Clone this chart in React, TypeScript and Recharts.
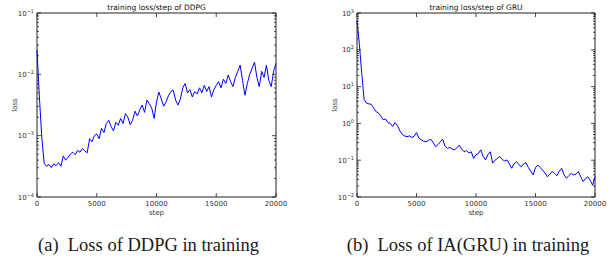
import React from 'react';
import { LineChart, Line, XAxis, YAxis, ReferenceArea } from 'recharts';

// sampled every 200 steps, 0..20000
const STEP_SIZE = 200;

const ddpgLoss = [
  2.5e-2, 4.27e-3, 9.5e-4, 3.55e-4, 3.16e-4, 3.39e-4, 3.02e-4, 3.47e-4, 3.24e-4, 3.63e-4,
  3.16e-4, 4.68e-4, 3.98e-4, 4.47e-4, 5.01e-4, 5.37e-4, 4.9e-4, 5.75e-4, 5.37e-4, 6.17e-4,
  5.62e-4, 5.25e-4, 8.91e-4, 7.94e-4, 1.0e-3, 1.07e-3, 8.91e-4, 1.32e-3, 1.12e-3, 1.58e-3,
  1.78e-3, 1.41e-3, 1.2e-3, 1.66e-3, 1.48e-3, 1.91e-3, 1.58e-3, 2.29e-3, 2.0e-3, 1.51e-3,
  1.78e-3, 2.51e-3, 2.09e-3, 2.63e-3, 3.16e-3, 2.4e-3, 3.8e-3, 3.31e-3, 2.82e-3, 1.91e-3,
  3.55e-3, 5.13e-3, 3.98e-3, 3.02e-3, 3.55e-3, 4.47e-3, 5.25e-3, 5.5e-3, 3.8e-3, 3.16e-3,
  3.98e-3, 6.03e-3, 7.08e-3, 5.01e-3, 5.62e-3, 4.27e-3, 5.25e-3, 4.79e-3, 6.03e-3, 5.01e-3,
  6.61e-3, 5.25e-3, 6.31e-3, 4.27e-3, 5.62e-3, 6.61e-3, 7.59e-3, 6.03e-3, 8.32e-3, 7.08e-3,
  9.77e-3, 7.59e-3, 6.31e-3, 8.91e-3, 1.12e-2, 1.41e-2, 7.94e-3, 4.57e-3, 7.08e-3, 1.0e-2,
  1.26e-2, 1.58e-2, 8.91e-3, 6.31e-3, 1.12e-2, 8.91e-3, 1.41e-2, 7.94e-3, 6.31e-3, 1.12e-2,
  1.51e-2,
];

const gruLoss = [
  631, 141, 22.4, 4.47, 3.55, 3.39, 3.31, 2.63, 2.09, 1.91,
  1.58, 1.26, 1.32, 1.05, 1.0, 0.832, 1.05, 0.871, 0.631, 0.501,
  0.457, 0.437, 0.457, 0.417, 0.447, 0.562, 0.398, 0.355, 0.331, 0.316,
  0.347, 0.372, 0.302, 0.234, 0.263, 0.316, 0.372, 0.24, 0.209, 0.224,
  0.2, 0.191, 0.219, 0.257, 0.2, 0.17, 0.182, 0.158, 0.17, 0.112,
  0.141, 0.151, 0.191, 0.126, 0.102, 0.141, 0.17, 0.0832, 0.1, 0.112,
  0.126, 0.105, 0.0955, 0.102, 0.0794, 0.0603, 0.0794, 0.0912, 0.0759, 0.0661,
  0.0794, 0.0851, 0.0631, 0.0501, 0.0398, 0.0631, 0.0741, 0.0631, 0.0537, 0.0447,
  0.0355, 0.0417, 0.0501, 0.0437, 0.038, 0.0501, 0.0603, 0.0398, 0.0324, 0.038,
  0.0437, 0.0398, 0.0417, 0.049, 0.0355, 0.0263, 0.0316, 0.0355, 0.0282, 0.0209,
  0.0355,
];

const stepTicks = [0, 5000, 10000, 15000, 20000];
const ddpgMajors = [1e-4, 1e-3, 1e-2, 1e-1];
const gruMajors = [1e-2, 1e-1, 1, 10, 100, 1000];
const minorFactors = [2, 3, 4, 5, 6, 7, 8, 9];

const withMinors = (majors: number[]) => {
  const out: number[] = [...majors];
  majors.slice(0, -1).forEach((m) => minorFactors.forEach((f) => out.push(m * f)));
  return out;
};

const toRows = (vals: number[]) => vals.map((v, i) => ({ step: i * STEP_SIZE, loss: v }));

const AXIS = '#222';
const TXT = '#333';
const SANS = '"DejaVu Sans", sans-serif';

const isMajor = (v: number, majors: number[]) => majors.some((m) => Math.abs(m - v) / m < 1e-6);

const YTick = ({ x, y, payload, majors, plotW }: any) => {
  const v = payload.value;
  const major = isMajor(v, majors);
  const len = major ? 4 : 2;
  const exp = Math.round(Math.log10(v));
  return (
    <g>
      <line x1={x} x2={x + len} y1={y} y2={y} stroke={AXIS} strokeWidth={0.8} />
      <line x1={x + plotW} x2={x + plotW - len} y1={y} y2={y} stroke={AXIS} strokeWidth={0.8} />
      {major && (
        <text x={x - 3} y={y + 2.5} textAnchor="end" fontFamily={SANS} fontSize={7} fill={TXT}>
          10
          <tspan dy={-3} fontSize={5}>{exp < 0 ? `\u2212${-exp}` : exp}</tspan>
        </text>
      )}
    </g>
  );
};

const XTick = ({ x, y, payload, plotH }: any) => (
  <g>
    <line x1={x} x2={x} y1={y} y2={y - 4} stroke={AXIS} strokeWidth={0.8} />
    <line x1={x} x2={x} y1={y - plotH} y2={y - plotH + 4} stroke={AXIS} strokeWidth={0.8} />
    <text x={x} y={y + 8.5} textAnchor="middle" fontFamily={SANS} fontSize={7} fill={TXT}>
      {payload.value}
    </text>
  </g>
);

interface PanelProps {
  left: number;
  width: number;
  plot: { top: number; right: number; bottom: number; left: number };
  data: { step: number; loss: number }[];
  majors: number[];
  title: string;
  caption: string;
}

const H = 220;

const Panel = ({ left, width, plot, data, majors, title, caption }: PanelProps) => {
  const plotW = width - plot.left - plot.right;
  const plotH = H - plot.top - plot.bottom;
  // axes take 1px each (a zero-sized axis is not drawn)
  const margin = { top: plot.top, right: plot.right, bottom: plot.bottom - 1, left: plot.left - 1 };
  const domain = [majors[0], majors[majors.length - 1]];
  const cx = left + plot.left + plotW / 2;
  const center: React.CSSProperties = {
    position: 'absolute',
    transform: 'translate(-50%, -50%)',
    whiteSpace: 'pre',
    lineHeight: 1,
  };
  return (
    <>
      <div style={{ position: 'absolute', left, top: 0 }}>
        <LineChart width={width} height={H} data={data} margin={margin}>
          <ReferenceArea
            x1={0}
            x2={20000}
            y1={domain[0]}
            y2={domain[1]}
            fill="none"
            stroke={AXIS}
            strokeWidth={1}
            ifOverflow="visible"
          />
          <XAxis
            dataKey="step"
            type="number"
            domain={[0, 20000]}
            ticks={stepTicks}
            interval={0}
            height={1}
            axisLine={false}
            tickLine={false}
            tickSize={0}
            tickMargin={0}
            tick={(p: any) => <XTick {...p} plotH={plotH} />}
          />
          <YAxis
            scale="log"
            type="number"
            domain={domain}
            allowDataOverflow
            ticks={withMinors(majors)}
            interval={0}
            width={1}
            axisLine={false}
            tickLine={false}
            tickSize={0}
            tickMargin={0}
            tick={(p: any) => <YTick {...p} majors={majors} plotW={plotW} />}
          />
          <Line
            type="linear"
            dataKey="loss"
            stroke="#0000ff"
            strokeWidth={1}
            dot={false}
            isAnimationActive={false}
          />
        </LineChart>
      </div>
      <div style={{ ...center, left: cx, top: 7.5, fontFamily: SANS, fontSize: 7.5, color: '#111' }}>{title}</div>
      <div style={{ ...center, left: cx, top: 213, fontFamily: SANS, fontSize: 7, color: TXT }}>step</div>
      <div
        style={{
          ...center,
          left: left + plot.left - 22,
          top: plot.top + plotH / 2,
          transform: 'translate(-50%, -50%) rotate(-90deg)',
          fontFamily: SANS,
          fontSize: 7,
          color: TXT,
        }}
      >
        loss
      </div>
      <div style={{ ...center, left: cx - 8, top: 245, fontFamily: '"Liberation Serif", serif', fontSize: 18.5, color: '#1a1a1a' }}>
        {caption}
      </div>
    </>
  );
};

export default function App() {
  return (
    <div style={{ position: 'absolute', left: 0, top: 0, width: 613, height: 261, background: '#fff', overflow: 'hidden' }}>
      <Panel
        left={0}
        width={300}
        plot={{ top: 13, right: 24, bottom: 23, left: 37 }}
        data={toRows(ddpgLoss)}
        majors={ddpgMajors}
        title="training loss/step of DDPG"
        caption="(a)  Loss of DDPG in training"
      />
      <Panel
        left={300}
        width={313}
        plot={{ top: 13, right: 18, bottom: 23, left: 57 }}
        data={toRows(gruLoss)}
        majors={gruMajors}
        title="training loss/step of GRU"
        caption="(b)  Loss of IA(GRU) in training"
      />
    </div>
  );
}
